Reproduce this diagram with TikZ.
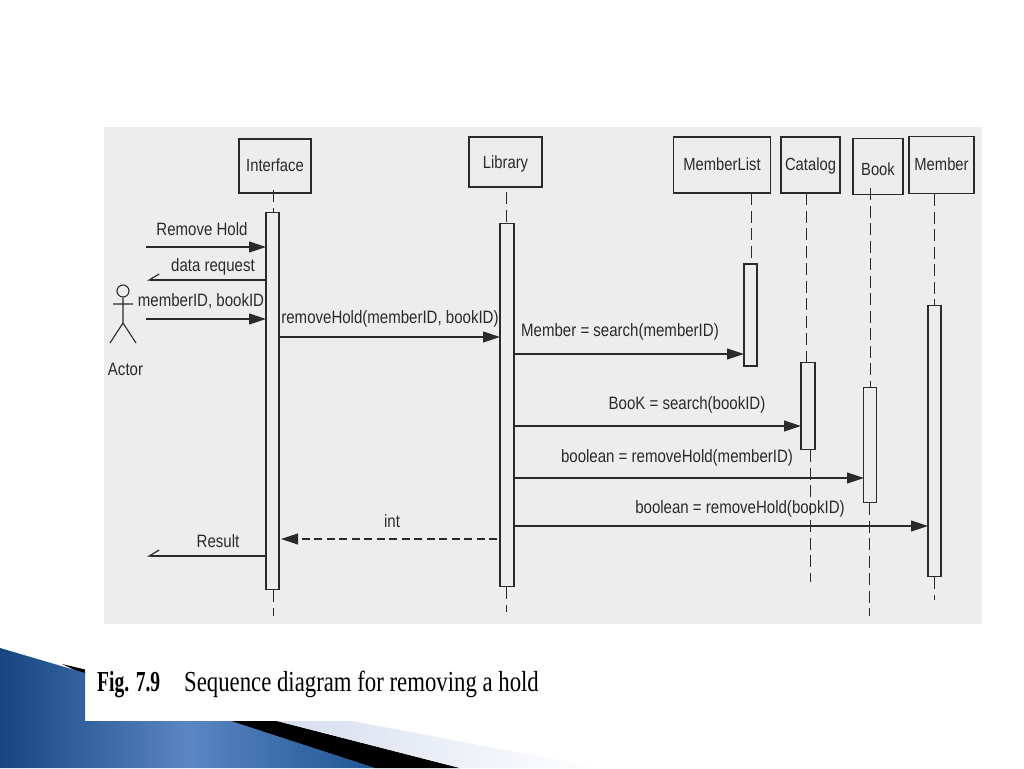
\documentclass[tikz,border=0pt]{standalone}
\usepackage{fontspec}
\setmainfont{Liberation Serif}
\newfontfamily\labfont[FakeStretch=0.84]{Liberation Sans}
\newfontfamily\capfont[FakeStretch=0.785]{Liberation Serif}
\newfontfamily\capbold[FakeStretch=0.675]{Liberation Serif Bold}
\usetikzlibrary{arrows.meta}
\definecolor{panel}{HTML}{EDEDED}
\definecolor{ink}{HTML}{2A2A2A}
\definecolor{blueA}{HTML}{15467F}
\definecolor{blueB}{HTML}{5A86C4}
\definecolor{blueC}{HTML}{1F5594}
\definecolor{paleA}{HTML}{D5DDEE}
\tikzset{
 x=1pt,y=-1pt,
 obj/.style={draw=ink,line width=1.1pt,fill=none,inner sep=0pt,minimum width=#1,font=\labfont\fontsize{17.6}{18}\selectfont,text=ink,text height=10pt,text depth=0pt},
 bar/.style={draw=ink,line width=1.1pt,fill=panel,inner sep=0pt},
 life/.style={draw=ink,line width=1pt,dash pattern=on 12pt off 5.5pt},
 msg/.style={draw=ink,line width=1.1pt,-{Triangle[length=17pt,width=11pt]}},
 retmsg/.style={draw=ink,line width=1.1pt,dash pattern=on 8pt off 4.5pt,-{Triangle[length=17pt,width=11pt,sep=0pt]}},
 lab/.style={font=\labfont\fontsize{17.9}{18}\selectfont,text=ink,inner sep=0pt},
 openmsg/.style={draw=ink,line width=1.2pt,-{Straight Barb[right,length=10pt,width=12pt]}},
}
\begin{document}
\begin{tikzpicture}
\useasboundingbox (0,0) rectangle (1024,768);
\fill[white] (0,0) rectangle (1024,768);
% slide decoration
\fill[black] (62,664) -- (85,669.500) -- (85,675) -- cycle;
\shade[left color=blueA,right color=blueC,middle color=blueB] (0,648) -- (85,673) -- (85,721) -- (231,721) -- (375,768) -- (0,768) -- cycle;
\fill[black] (231,721) -- (277,721) -- (460,768) -- (375,768) -- cycle;
\shade[left color=paleA,right color=white] (277,721) -- (352,721) -- (600,768) -- (460,768) -- cycle;
% panel
\fill[panel] (104,127) rectangle (982,624);
% objects
\node[obj=72pt,minimum height=54pt] (interface) at (275,166) {Interface};
\node[obj=73pt,minimum height=50pt,text height=12pt] (library) at (505.500,162) {Library};
\node[obj=97pt,minimum height=56pt] (memberlist) at (722,165) {MemberList};
\node[obj=59pt,minimum height=56pt] (catalog) at (810.500,165) {Catalog};
\node[obj=50pt,minimum height=56pt,text height=17pt] (book) at (878,166.500) {Book};
\node[obj=65pt,minimum height=57pt] (member) at (941.500,165) {Member};
% activation bars
\node[bar,minimum width=13pt,minimum height=377pt] (ai) at (272.500,401) {};
\node[bar,minimum width=14pt,minimum height=363pt] (al) at (507,405) {};
\node[bar,minimum width=13pt,minimum height=102pt] (aml) at (750.500,315) {};
\node[bar,minimum width=14pt,minimum height=87pt] (ac) at (808,406) {};
\node[bar,minimum width=13pt,minimum height=115pt] (ab) at (870,445) {};
\node[bar,minimum width=13pt,minimum height=271pt] (am) at (934.500,441) {};
% lifelines
\coordinate (iT) at (273,190); \coordinate (iTb) at (273,212); \coordinate (iBa) at (273,590); \coordinate (iB) at (273,616);
\coordinate (lT) at (506,192); \coordinate (lTb) at (506,223); \coordinate (lBa) at (506,587); \coordinate (lB) at (506,612);
\coordinate (mlT) at (751,193); \coordinate (mlB) at (751,264);
\coordinate (cT) at (806,193); \coordinate (cTb) at (806,362); \coordinate (cBa) at (810,450); \coordinate (cB) at (810,582);
\coordinate (bT) at (870.500,188); \coordinate (bTb) at (870.500,387); \coordinate (bBa) at (869,503); \coordinate (bB) at (869,616);
\coordinate (mT) at (934,194); \coordinate (mTb) at (934,305); \coordinate (mBa) at (934,577); \coordinate (mB) at (934,600);
\draw[life] (iT) -- (iTb);
\draw[life] (iBa) -- (iB);
\draw[life] (lT) -- (lTb);
\draw[life] (lBa) -- (lB);
\draw[life] (mlT) -- (mlB);
\draw[life] (cT) -- (cTb);
\draw[life] (cBa) -- (cB);
\draw[life] (bT) -- (bTb);
\draw[life] (bBa) -- (bB);
\draw[life] (mT) -- (mTb);
\draw[life] (mBa) -- (mB);
% actor
\node[draw=ink,circle,line width=1.1pt,minimum size=12pt,inner sep=0pt] (head) at (123,291) {};
\coordinate (hip) at (123,323);
\coordinate (armL) at (113,304); \coordinate (armR) at (133,304);
\coordinate (legL) at (110,343); \coordinate (legR) at (136,343);
\draw[draw=ink,line width=1.1pt] (head) -- (hip) (armL) -- (armR) (legL) -- (hip) -- (legR);
\node[lab] (actor) at (125.500,369) {Actor};
% free ends
\coordinate (f1) at (146,247); \coordinate (f2) at (147,280); \coordinate (f3) at (146,319); \coordinate (f4) at (147,556);
% messages
\draw[msg] (f1) -- (266,247);
\draw[openmsg] (266,280) -- (f2);
\draw[msg] (f3) -- (266,319);
\draw[msg] (279,337) -- (500,337);
\draw[msg] (514,354) -- (744,354);
\draw[msg] (514,426) -- (801,426);
\draw[msg] (514,478) -- (864,478);
\draw[msg] (514,526) -- (928,526);
\draw[retmsg] (497,539) -- (281,539);
\draw[openmsg] (266,556) -- (f4);
% labels
\node[lab] (t1) at (202,229) {Remove Hold};
\node[lab] (t2) at (213,267) {data request};
\node[lab] (t3) at (201,301) {memberID, bookID};
\node[lab] (t4) at (390,319) {removeHold(memberID, bookID)};
\node[lab] (t5) at (620,332) {Member = search(memberID)};
\node[lab] (t6) at (687,405) {BooK = search(bookID)};
\node[lab] (t7) at (677,458) {boolean = removeHold(memberID)};
\node[lab] (t8) at (740,509) {boolean = removeHold(bookID)};
\node[lab] (t9) at (392,521) {int};
\node[lab] (t10) at (218,541) {Result};
% caption
\node[font=\capbold\fontsize{29}{30}\selectfont,text=black,inner sep=0pt,anchor=base west] (capa) at (97,691) {Fig. 7.9};
\node[font=\capfont\fontsize{29}{30}\selectfont,text=black,inner sep=0pt,anchor=base west] (capb) at (184,691) {Sequence diagram for removing a hold};
\end{tikzpicture}
\end{document}
